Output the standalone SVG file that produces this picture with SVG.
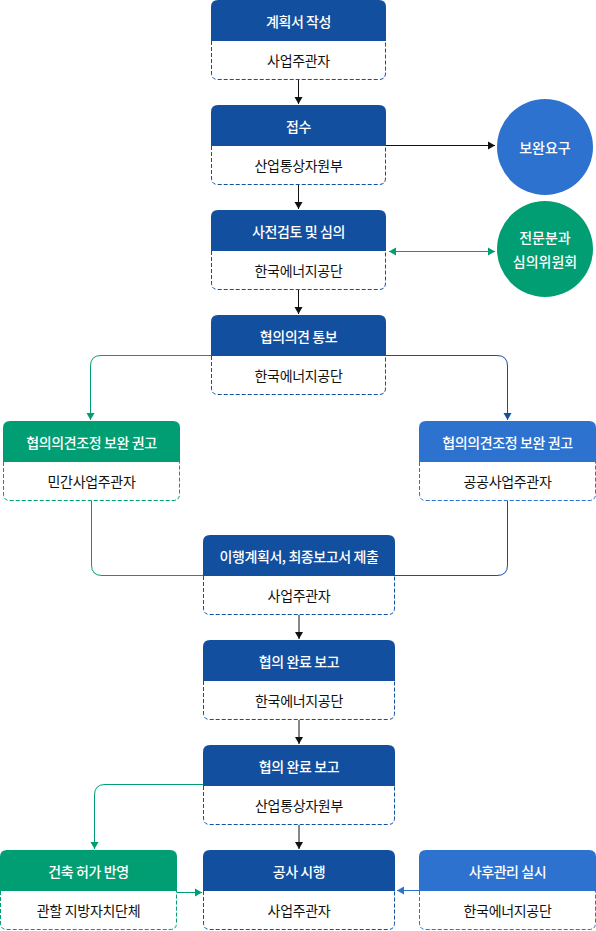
<svg xmlns="http://www.w3.org/2000/svg" width="596" height="931" viewBox="0 0 596 931">
<style>
text{font-family:"Noto Sans CJK KR","Noto Sans",sans-serif;text-anchor:middle;dominant-baseline:central;}
.h{fill:#fff;font-size:14px;font-weight:500;letter-spacing:-0.4px;}
.b{fill:#111;font-size:14px;letter-spacing:-0.3px;}
.c{fill:#fff;font-size:14px;font-weight:500;}
.hd{fill:#134f9f;}
.hm{fill:#2d72cf;}
.hg{fill:#009e72;}
.bd{fill:#fff;stroke:#134f9f;stroke-width:1;stroke-dasharray:4 2;}
.bm{fill:#fff;stroke:#2d72cf;stroke-width:1;stroke-dasharray:4 2;}
.bg{fill:#fff;stroke:#009e72;stroke-width:1;stroke-dasharray:4 2;}
.lk{fill:none;stroke:#111;stroke-width:1;}
.ld{fill:none;stroke:#134f9f;stroke-width:1;}
.lm{fill:none;stroke:#2d72cf;stroke-width:1;}
.lg{fill:none;stroke:#009e72;stroke-width:1;}
</style>
<defs>
<marker id="ak" markerWidth="10" markerHeight="10" refX="8" refY="5" orient="auto" markerUnits="userSpaceOnUse"><path d="M1,1 L8,5 L1,9 Z" fill="#111"/></marker>
<marker id="ad" markerWidth="10" markerHeight="10" refX="8" refY="5" orient="auto" markerUnits="userSpaceOnUse"><path d="M1,1 L8,5 L1,9 Z" fill="#134f9f"/></marker>
<marker id="am" markerWidth="10" markerHeight="10" refX="8" refY="5" orient="auto" markerUnits="userSpaceOnUse"><path d="M1,1 L8,5 L1,9 Z" fill="#2d72cf"/></marker>
<marker id="ag" markerWidth="10" markerHeight="10" refX="8" refY="5" orient="auto" markerUnits="userSpaceOnUse"><path d="M1,1 L8,5 L1,9 Z" fill="#009e72"/></marker>
<marker id="ags" markerWidth="10" markerHeight="10" refX="2" refY="5" orient="auto" markerUnits="userSpaceOnUse"><path d="M9,1 L2,5 L9,9 Z" fill="#009e72"/></marker>
</defs>

<g id="connectors">
<path class="lk" d="M298.5,80 V104" marker-end="url(#ak)"/>
<path class="lk" d="M298.5,185 V209" marker-end="url(#ak)"/>
<path class="lk" d="M298.5,290 V314" marker-end="url(#ak)"/>
<path class="lk" d="M386,145.5 H495" marker-end="url(#ak)"/>
<path class="lg" d="M389,251.5 H495" marker-start="url(#ags)" marker-end="url(#ag)"/>
<path class="lg" d="M211,355.5 H101 Q90.5,355.5 90.5,366 V420" marker-end="url(#ag)"/>
<path class="ld" d="M386,355.5 H497 Q507.5,355.5 507.5,366 V420" marker-end="url(#ad)"/>
<path class="lg" d="M91.5,501 V565 Q91.5,575.5 102,575.5 H203"/>
<path class="ld" d="M507.5,501 V565 Q507.5,575.5 497,575.5 H395"/>
<path class="lk" d="M299,615 V639" marker-end="url(#ak)"/>
<path class="lk" d="M299,720 V744" marker-end="url(#ak)"/>
<path class="lk" d="M299,825 V849" marker-end="url(#ak)"/>
<path class="lg" d="M203,784.5 H105 Q94.5,784.5 94.5,795 V849" marker-end="url(#ag)"/>
<path class="lg" d="M177,892.5 H202" marker-end="url(#ag)"/>
<path class="lm" d="M419,890.5 H397" marker-end="url(#am)"/>
</g>

<g id="n1">
<path class="hd" d="M211,41 V7 Q211,0 218,0 H379 Q386,0 386,7 V41 Z"/>
<path class="bd" d="M211.5,41 V73 Q211.5,79.5 218,79.5 H379 Q385.5,79.5 385.5,73 V41"/>
<text class="h" x="298.5" y="20.5">계획서 작성</text>
<text class="b" x="298.5" y="60">사업주관자</text>
</g>
<g id="n2">
<path class="hd" d="M211,146 V112 Q211,105 218,105 H379 Q386,105 386,112 V146 Z"/>
<path class="bd" d="M211.5,146 V178 Q211.5,184.5 218,184.5 H379 Q385.5,184.5 385.5,178 V146"/>
<text class="h" x="298.5" y="125.5">접수</text>
<text class="b" x="298.5" y="165">산업통상자원부</text>
</g>
<g id="n3">
<path class="hd" d="M211,251 V217 Q211,210 218,210 H379 Q386,210 386,217 V251 Z"/>
<path class="bd" d="M211.5,251 V283 Q211.5,289.5 218,289.5 H379 Q385.5,289.5 385.5,283 V251"/>
<text class="h" x="298.5" y="230.5">사전검토 및 심의</text>
<text class="b" x="298.5" y="270">한국에너지공단</text>
</g>
<g id="n4">
<path class="hd" d="M211,356 V322 Q211,315 218,315 H379 Q386,315 386,322 V356 Z"/>
<path class="bd" d="M211.5,356 V388 Q211.5,394.5 218,394.5 H379 Q385.5,394.5 385.5,388 V356"/>
<text class="h" x="298.5" y="335.5">협의의견 통보</text>
<text class="b" x="298.5" y="375">한국에너지공단</text>
</g>
<g id="c1">
<circle cx="545" cy="147" r="48" fill="#2d72cf"/>
<text class="c" x="545" y="147">보완요구</text>
</g>
<g id="c2">
<circle cx="545" cy="249" r="48" fill="#009e72"/>
<text class="c" x="545" y="237">전문분과</text>
<text class="c" x="545" y="261">심의위원회</text>
</g>
<g id="n5">
<path class="hg" d="M3,462 V428 Q3,421 10,421 H173 Q180,421 180,428 V462 Z"/>
<path class="bg" d="M3.5,462 V494 Q3.5,500.5 10,500.5 H173 Q179.5,500.5 179.5,494 V462"/>
<text class="h" x="91.5" y="441.5">협의의견조정 보완 권고</text>
<text class="b" x="91.5" y="481">민간사업주관자</text>
</g>
<g id="n6">
<path class="hm" d="M419,462 V428 Q419,421 426,421 H589 Q596,421 596,428 V462 Z"/>
<path class="bm" d="M419.5,462 V494 Q419.5,500.5 426,500.5 H589 Q595.5,500.5 595.5,494 V462"/>
<text class="h" x="507.5" y="441.5">협의의견조정 보완 권고</text>
<text class="b" x="507.5" y="481">공공사업주관자</text>
</g>
<g id="n7">
<path class="hd" d="M203,576 V542 Q203,535 210,535 H388 Q395,535 395,542 V576 Z"/>
<path class="bd" d="M203.5,576 V608 Q203.5,614.5 210,614.5 H388 Q394.5,614.5 394.5,608 V576"/>
<text class="h" x="299" y="555.5">이행계획서, 최종보고서 제출</text>
<text class="b" x="299" y="595">사업주관자</text>
</g>
<g id="n8">
<path class="hd" d="M203,681 V647 Q203,640 210,640 H388 Q395,640 395,647 V681 Z"/>
<path class="bd" d="M203.5,681 V713 Q203.5,719.5 210,719.5 H388 Q394.5,719.5 394.5,713 V681"/>
<text class="h" x="299" y="660.5">협의 완료 보고</text>
<text class="b" x="299" y="700">한국에너지공단</text>
</g>
<g id="n9">
<path class="hd" d="M203,786 V752 Q203,745 210,745 H388 Q395,745 395,752 V786 Z"/>
<path class="bd" d="M203.5,786 V818 Q203.5,824.5 210,824.5 H388 Q394.5,824.5 394.5,818 V786"/>
<text class="h" x="299" y="765.5">협의 완료 보고</text>
<text class="b" x="299" y="805">산업통상자원부</text>
</g>
<g id="n10">
<path class="hd" d="M203,891 V857 Q203,850 210,850 H388 Q395,850 395,857 V891 Z"/>
<path class="bd" d="M203.5,891 V923 Q203.5,929.5 210,929.5 H388 Q394.5,929.5 394.5,923 V891"/>
<text class="h" x="299" y="870.5">공사 시행</text>
<text class="b" x="299" y="910">사업주관자</text>
</g>
<g id="n11">
<path class="hg" d="M0,891 V857 Q0,850 7,850 H170 Q177,850 177,857 V891 Z"/>
<path class="bg" d="M0.5,891 V923 Q0.5,929.5 7,929.5 H170 Q176.5,929.5 176.5,923 V891"/>
<text class="h" x="88.5" y="870.5">건축 허가 반영</text>
<text class="b" x="88.5" y="910">관할 지방자치단체</text>
</g>
<g id="n12">
<path class="hm" d="M419,891 V857 Q419,850 426,850 H589 Q596,850 596,857 V891 Z"/>
<path class="bm" d="M419.5,891 V923 Q419.5,929.5 426,929.5 H589 Q595.5,929.5 595.5,923 V891"/>
<text class="h" x="507.5" y="870.5">사후관리 실시</text>
<text class="b" x="507.5" y="910">한국에너지공단</text>
</g>
</svg>
